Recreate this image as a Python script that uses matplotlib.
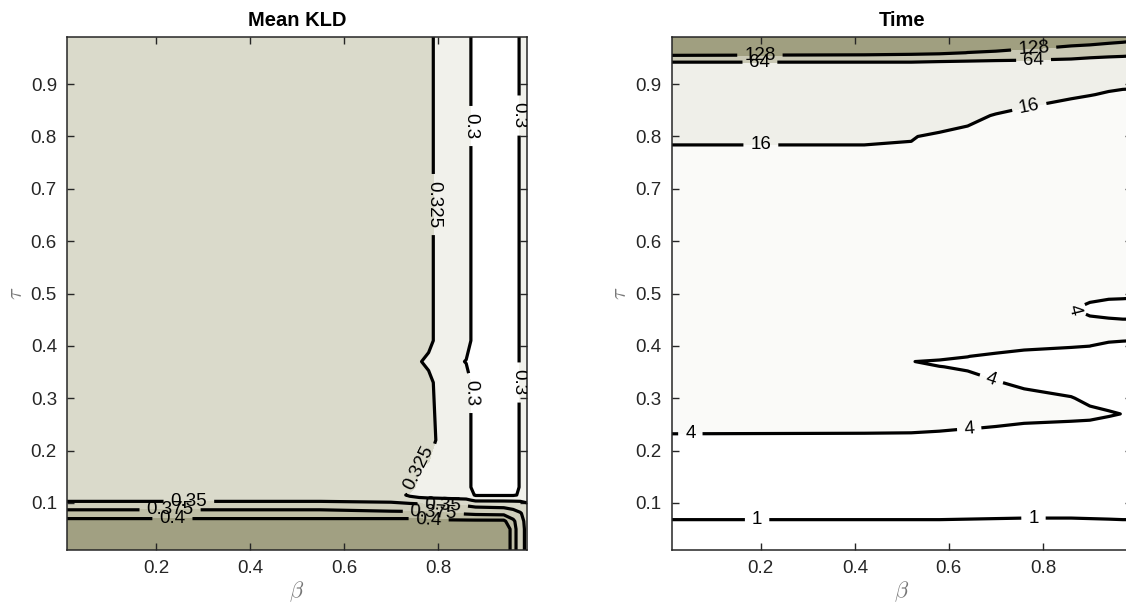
#!/usr/bin/env python3

import numpy as np
import matplotlib
matplotlib.use("Agg")
import matplotlib.pyplot as plt

plt.rcParams['font.family'] = ['Liberation Sans', 'DejaVu Sans']
plt.rcParams['mathtext.fontset'] = 'cm'

# ---- Mean KLD grid ----
beta_kld = [0.01, 0.55, 0.70, 0.74, 0.76, 0.78, 0.80, 0.86, 0.88, 0.94, 0.96, 0.975, 0.99]
tau_kld = [0.01, 0.05, 0.065, 0.08, 0.095, 0.105, 0.115, 0.13, 0.22, 0.33, 0.37, 0.41, 0.99]
kld = [
    [0.45, 0.45, 0.45, 0.45, 0.45, 0.45, 0.45, 0.45, 0.45, 0.43, 0.385, 0.36, 0.343],
    [0.44, 0.44, 0.44, 0.44, 0.44, 0.44, 0.44, 0.44, 0.44, 0.43, 0.385, 0.36, 0.343],
    [0.41, 0.41, 0.41, 0.41, 0.41, 0.405, 0.405, 0.405, 0.405, 0.405, 0.38, 0.358, 0.342],
    [0.38, 0.38, 0.38, 0.38, 0.38, 0.379, 0.378, 0.372, 0.37, 0.368, 0.36, 0.352, 0.34],
    [0.369, 0.369, 0.362, 0.36, 0.358, 0.356, 0.354, 0.349, 0.345, 0.343, 0.34, 0.337, 0.33],
    [0.345, 0.345, 0.343, 0.335, 0.333, 0.332, 0.331, 0.329, 0.322, 0.322, 0.322, 0.322, 0.32],
    [0.338, 0.338, 0.336, 0.322, 0.318, 0.316, 0.316, 0.312, 0.298, 0.298, 0.298, 0.302, 0.312],
    [0.335, 0.335, 0.335, 0.335, 0.318, 0.314, 0.313, 0.31, 0.29, 0.29, 0.29, 0.302, 0.31],
    [0.335, 0.335, 0.335, 0.335, 0.335, 0.335, 0.322, 0.31, 0.29, 0.29, 0.29, 0.302, 0.31],
    [0.335, 0.335, 0.335, 0.335, 0.335, 0.335, 0.315, 0.31, 0.29, 0.29, 0.29, 0.302, 0.31],
    [0.335, 0.335, 0.335, 0.335, 0.3275, 0.3175, 0.315, 0.299, 0.29, 0.29, 0.29, 0.302, 0.31],
    [0.335, 0.335, 0.335, 0.335, 0.335, 0.335, 0.315, 0.31, 0.29, 0.29, 0.29, 0.302, 0.31],
    [0.335, 0.335, 0.335, 0.335, 0.335, 0.335, 0.315, 0.31, 0.29, 0.29, 0.29, 0.302, 0.31],
]
kld_lines = [0.3, 0.325, 0.35, 0.375, 0.4]
kld_bounds = [0.28, 0.3, 0.325, 0.35, 0.375, 0.4, 0.46]
kld_colors = ['#ffffff', '#f1f1eb', '#dadacb', '#cfcebb', '#bfbea6', '#a1a082']

# ---- Time grid ----
beta_time = [0.01, 0.42, 0.52, 0.58, 0.64, 0.70, 0.76, 0.86, 0.90, 0.94, 0.97, 0.99]
tau_time = [0.01, 0.06, 0.08, 0.20, 0.24, 0.27, 0.30, 0.33, 0.36, 0.37, 0.38, 0.40, 0.42,
            0.44, 0.47, 0.50, 0.76, 0.80, 0.84, 0.88, 0.92, 0.94, 0.95, 0.96, 0.97, 0.99]
run_time = [
    [0.5] * 12,
    [0.8, 0.8, 0.8, 0.8, 0.755, 0.7, 0.633, 0.633, 0.7, 0.755, 0.8, 0.8],
    [1.3] * 12,
    [3.0] * 12,
    [4.25, 4.21, 4.18, 4.08, 3.95, 3.8, 3.6, 3.5, 3.4, 3.3, 3.2, 3.1],
    [6, 6, 6, 6, 5.45, 4.8, 4.6, 4.44, 4.4, 4.14, 3.97, 3.6],
    [8, 8, 7, 7, 6.5, 5.5, 5, 4.1, 3.6, 3.44, 3.5, 3.4],
    [8, 8, 6, 5.5, 5, 4.2, 3.33, 3.1, 3, 3, 3, 3],
    [8, 8, 4.3, 4.07, 3.64, 2.7, 3, 3, 3, 3, 3, 3],
    [8, 8, 4.1, 3.35, 3.3, 2.8, 3, 3, 3, 3, 3, 3],
    [8, 8, 4.4, 5.52, 4.08, 3.0, 3.1, 3.2, 3.2, 3.1, 3, 3],
    [8, 8, 6, 7, 6, 6.33, 4.6, 4.14, 4.02, 3.5, 3.5, 3.5],
    [8, 8, 8, 8, 8, 8, 7, 5, 4.6, 4.93, 4.61, 4.5],
    [8, 8, 8, 8, 8, 8, 8, 5, 4.66, 4.76, 4.58, 4.58],
    [8, 8, 8, 8, 8, 8, 8, 4.1, 3.5, 3, 3, 3],
    [8, 8, 8, 8, 8, 8, 8, 5, 4.65, 4.58, 4.5, 4.43],
    [12, 12, 12, 8, 8, 8, 8, 8, 8, 8, 8, 8],
    [18.7, 18.7, 17.2, 12, 12, 8, 8, 8, 8, 8, 8, 8],
    [30, 30, 30, 32, 20, 15, 12, 12, 8, 8, 8, 8],
    [30, 30, 30, 32, 30, 28, 22.7, 17, 16.4, 15, 14, 14],
    [30, 30, 30, 32, 30, 30, 30, 30, 30, 21.7, 22, 21.3],
    [60, 60, 60, 60, 60, 60, 60, 50, 50, 50, 50, 50],
    [80, 80, 80, 73, 70, 68, 67, 67.5, 63.5, 60, 58, 58],
    [176, 160, 149, 142, 127, 110, 100, 90, 80, 80, 78, 73],
    [180, 175, 170, 160, 150, 170, 140, 120, 115, 110, 105, 100],
    [190, 185, 180, 175, 170, 180, 170, 173, 167, 155, 151, 147],
]
time_lines = [1, 4, 16, 64, 128]
time_bounds = [0, 1, 4, 16, 64, 128, 200]
time_colors = ['#ffffff', '#ffffff', '#fafaf8', '#efefe9', '#c9c8b4', '#a09f80']

# label spots (data coords), like MATLAB put them
kld_label_pos = [(0.868, 0.82), (0.868, 0.31), (0.975, 0.84), (0.975, 0.33),
                 (0.794, 0.67), (0.755, 0.17),
                 (0.27, 0.103), (0.23, 0.087), (0.235, 0.071),
                 (0.81, 0.095), (0.79, 0.081), (0.78, 0.067)]
time_label_pos = [(0.198, 0.956), (0.78, 0.972), (0.198, 0.942), (0.78, 0.952),
                  (0.2, 0.784), (0.772, 0.852),
                  (0.05, 0.233), (0.643, 0.244), (0.688, 0.33), (0.868, 0.47),
                  (0.192, 0.068), (0.78, 0.07)]


def fmt_g(v):
    return '%g' % v


def draw_panel(ax, x, y, z, bounds, colors, lines, label_pos, title):
    Z = np.array(z)
    ax.contourf(x, y, Z, levels=bounds, colors=colors)
    cs = ax.contour(x, y, Z, levels=lines, colors='k', linewidths=2.3)
    ax.clabel(cs, fmt=fmt_g, manual=label_pos, inline=True, inline_spacing=7,
              fontsize=13.5, colors='k')
    ax.set_xlim(0.01, 0.99)
    ax.set_ylim(0.01, 0.99)
    ax.set_xticks([0.2, 0.4, 0.6, 0.8])
    ax.set_yticks([0.1, 0.2, 0.3, 0.4, 0.5, 0.6, 0.7, 0.8, 0.9])
    ax.tick_params(direction='in', top=True, right=True, length=5, width=1,
                   colors='#262626', labelsize=13.5, pad=7)
    for s in ax.spines.values():
        s.set_color('#262626')
        s.set_linewidth(1.1)
    ax.set_title(title, fontsize=14.5, fontweight='bold', pad=8)
    ax.set_xlabel(r'$\beta$', fontsize=16, color='#777777', labelpad=2)
    ax.set_ylabel(r'$\tau$', fontsize=16, color='#777777', labelpad=3)


fig = plt.figure(figsize=(11.26, 6.06), dpi=100)
ax1 = fig.add_axes([0.0592, 0.0924, 0.4091, 0.8465])
ax2 = fig.add_axes([0.5964, 0.0924, 0.4091, 0.8465])

draw_panel(ax1, beta_kld, tau_kld, kld, kld_bounds, kld_colors, kld_lines,
           kld_label_pos, 'Mean KLD')
draw_panel(ax2, beta_time, tau_time, run_time, time_bounds, time_colors, time_lines,
           time_label_pos, 'Time')

fig.savefig('out.png', dpi=100)
